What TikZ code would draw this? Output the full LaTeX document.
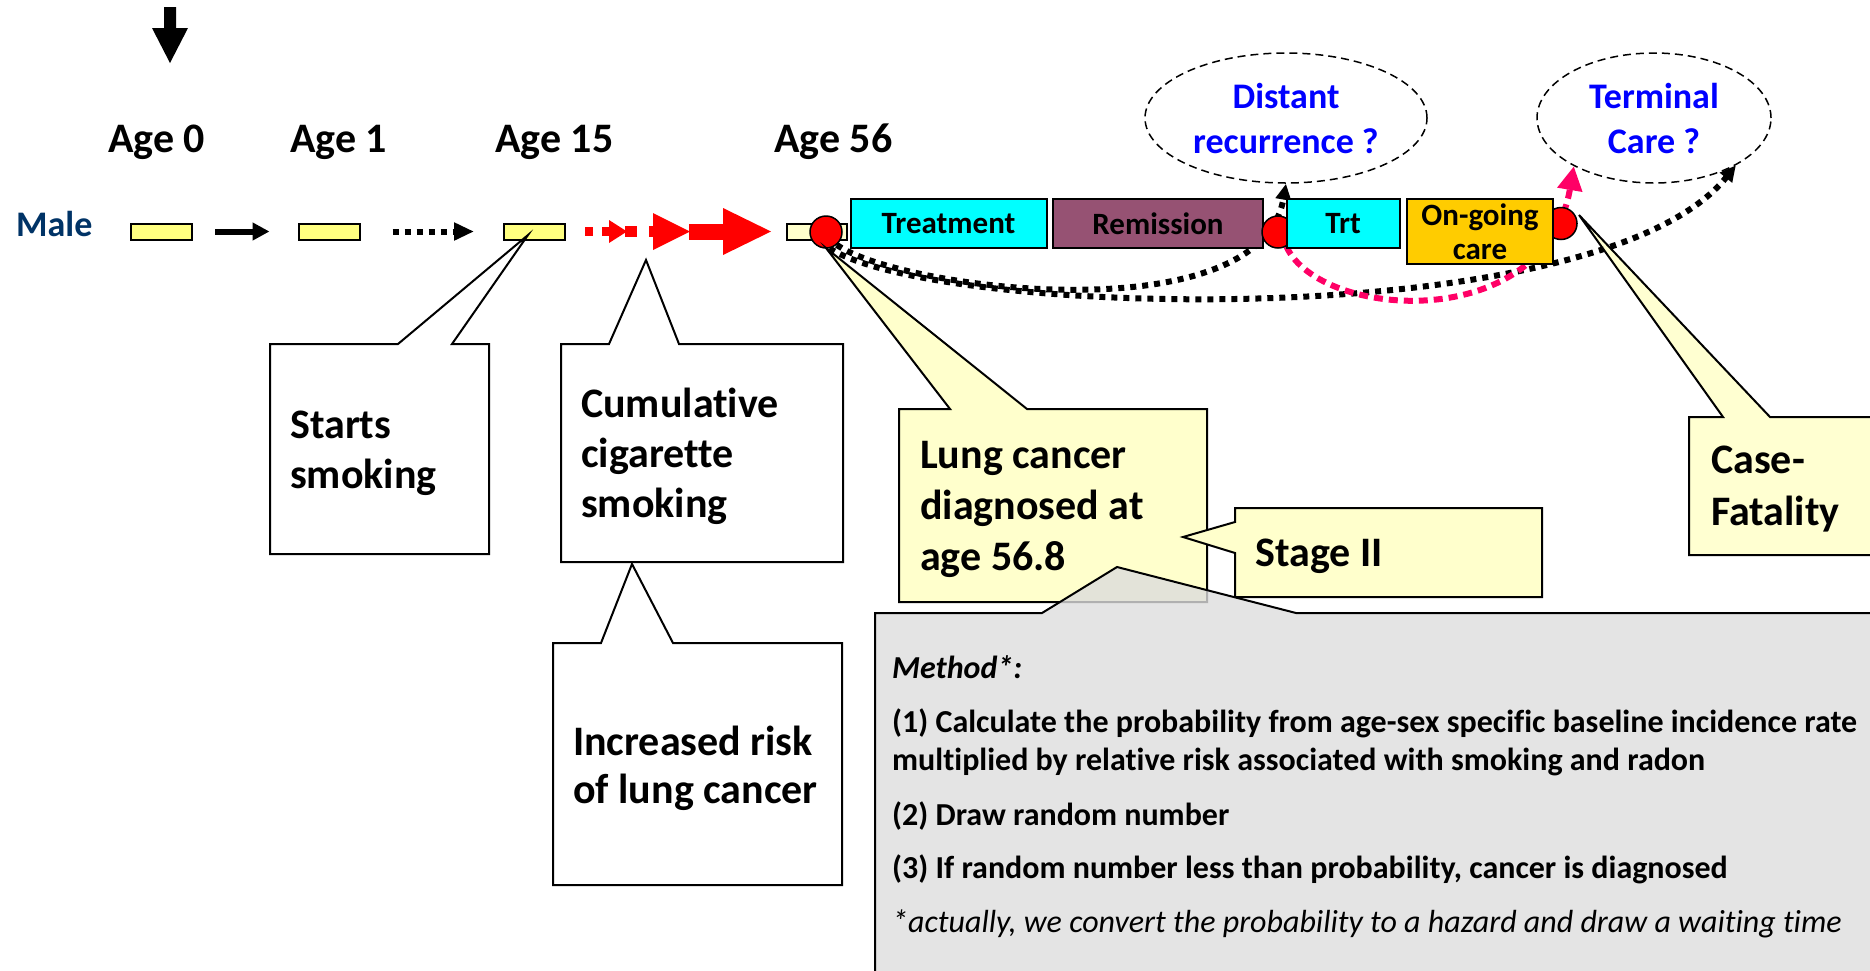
\documentclass[tikz,border=0pt]{standalone}
\usepackage{fontspec}
\setmainfont{Carlito}[Ligatures={NoCommon}]
\usetikzlibrary{arrows.meta,shapes.geometric,backgrounds}
\definecolor{navy}{RGB}{0,51,102}
\definecolor{ylw}{RGB}{255,255,128}
\definecolor{lylw}{RGB}{255,255,204}
\definecolor{remis}{RGB}{150,82,115}
\definecolor{goldc}{RGB}{255,204,0}
\definecolor{pinkc}{RGB}{255,0,102}
\definecolor{grayb}{RGB}{221,221,221}
\definecolor{cyanb}{RGB}{0,255,255}
\newcommand{\lns}[1]{\begin{tabular}[t]{@{}l@{}}#1\end{tabular}}
\begin{document}
\begin{tikzpicture}[x=1pt,y=-1pt,
  every node/.style={inner sep=0pt},
  lbl/.style={font=\fontsize{42}{50}\selectfont\bfseries, anchor=base west},
  tlbox/.style={draw, line width=2pt, minimum width=61pt, minimum height=16pt},
  stg/.style={draw, line width=2pt, font=\fontsize{31}{34}\selectfont\bfseries, align=center},
  redc/.style={circle, draw, line width=1.5pt, fill=red, minimum size=32pt},
  dotk/.style={line width=6pt, dash pattern=on 6pt off 6pt, -{Triangle[length=16pt,width=15pt]}},
  pinkd/.style={draw=pinkc, line width=6pt, dash pattern=on 9pt off 6pt, -{Triangle[length=24pt,width=24pt,fill=pinkc]}},
  ell/.style={ellipse, draw, line width=1.5pt, dash pattern=on 8pt off 5pt, font=\fontsize{36}{45}\selectfont\bfseries, text=blue, align=center},
  callw/.style={draw, line width=2pt, fill=white},
  cally/.style={draw, line width=2pt, fill=lylw},
  mtext/.style={font=\fontsize{32}{38}\selectfont\bfseries, anchor=base west},
  ]
\useasboundingbox (0,0) rectangle (1870,970);
\clip (0,0) rectangle (1870,970);

% top arrow
\fill (164,7) -- (176,7) -- (176,28) -- (188,28) -- (170,63) -- (152,28) -- (164,28) -- cycle;

% age labels
\node[lbl] (age0) at (108,152) {Age 0};
\node[lbl] (age1) at (290,152) {Age 1};
\node[lbl] (age15) at (495,152) {Age 15};
\node[lbl] (age56) at (774,152) {Age 56};
\node[anchor=base west, font=\fontsize{36}{40}\selectfont\bfseries, text=navy] (male) at (16,236) {Male};

% timeline boxes
\node[tlbox, fill=ylw] (b1) at (161.5,231.5) {};
\node[tlbox, fill=ylw] (b2) at (329,231.5) {};
\node[tlbox, fill=ylw] (b3) at (534.5,231.5) {};
\node[tlbox, fill=lylw, minimum width=60pt] (b4) at (817,231.5) {};

\draw[line width=6pt, -{Triangle[length=17pt,width=17pt]}, shorten <=22pt, shorten >=28pt] (b1) -- (b2);
\draw[line width=6pt, dash pattern=on 6pt off 6pt, -{Triangle[length=20pt,width=17pt]}, shorten <=32pt, shorten >=29pt] (b2) -- (b3);

% red accelerating arrow
\fill[red] (585,227) rectangle (593,236);
\fill[red] (602,227) rectangle (609,236);
\fill[red] (609,220) -- (627,231.5) -- (609,243) -- cycle;
\fill[red] (625,226) rectangle (637,237);
\fill[red] (649,226) rectangle (653,237);
\fill[red] (653,213) -- (690,231.5) -- (653,250) -- cycle;
\fill[red] (689,223.5) rectangle (724,239.5);
\fill[red] (723,208) -- (771,231.5) -- (723,255) -- cycle;

\node[redc] (c1) at (826,232) {};

% stage boxes
\node[stg, fill=cyanb, minimum width=196pt, minimum height=49pt] (treat) at (948.5,223.5) {Treatment};
\node[stg, fill=remis, minimum width=210pt, minimum height=49pt] (remis) at (1158,223.5) {Remission};
\node[redc] (c2) at (1278,232) {};
\node[stg, fill=cyanb, minimum width=113pt, minimum height=49pt] (trt) at (1343,223.5) {Trt};
\node[redc] (c3) at (1561,223.5) {};
\node[stg, fill=goldc, minimum width=146pt, minimum height=65pt] (ongo) at (1480,231.5) {On-going\\care};

% ellipses
\node[ell, minimum width=282pt, minimum height=130pt] (dr) at (1286,118) {Distant\\recurrence ?};
\node[ell, minimum width=234pt, minimum height=130pt] (tc) at (1654,118) {Terminal\\Care ?};

% curves behind
\begin{pgfonlayer}{background}
\draw[dotk] (c1.-50) .. controls (900,290) and (1260,335) .. (dr.south);
\draw[dotk] (c1.-78) .. controls (940,318) and (1600,335) .. (tc.-30);
\draw[pinkd] (c2.-60) .. controls (1320,320) and (1545,335) .. (tc.-149);
\end{pgfonlayer}

% callouts
\draw[callw] (270,344) -- (398,344) -- (528,235) -- (452,344) -- (489,344) -- (489,554) -- (270,554) -- cycle;
\node[lbl] (starts) at (290,438) {\lns{Starts\\smoking}};

\draw[callw] (561,344) -- (609,344) -- (646,260) -- (679,344) -- (843,344) -- (843,562) -- (561,562) -- cycle;
\node[lbl] (cumul) at (581,417) {\lns{Cumulative\\cigarette\\smoking}};

\draw[callw] (553,643) -- (601,643) -- (632,564) -- (673,643) -- (842,643) -- (842,885) -- (553,885) -- cycle;
\node[lbl, font=\fontsize{42}{48}\selectfont\bfseries] (incr) at (573,755) {\lns{Increased risk\\of lung cancer}};

\draw[cally] (899,409) -- (950,409) -- (826,248) -- (1027,409) -- (1207,409) -- (1207,602) -- (899,602) -- cycle;
\node[lbl, font=\fontsize{42}{51}\selectfont\bfseries] (lung) at (920,468) {\lns{Lung cancer\\diagnosed at\\age 56.8}};

\draw[cally] (1235,508) -- (1542,508) -- (1542,597) -- (1235,597) -- (1235,553) -- (1183,537) -- (1235,522) -- cycle;
\node[lbl] (stage) at (1255,566) {Stage II};

\draw[cally, fill opacity=0.9] (1689,417) -- (1723,417) -- (1579,215) -- (1770,417) -- (1880,417) -- (1880,555) -- (1689,555) -- cycle;
\node[lbl, font=\fontsize{42}{52}\selectfont\bfseries] (case) at (1711,473) {\lns{Case-\\Fatality}};

% method box
\draw[draw, line width=2pt, fill=grayb, fill opacity=0.8] (875,613) -- (1042,613) -- (1117,567) -- (1296,613) -- (1880,613) -- (1880,980) -- (875,980) -- cycle;
\node[mtext] (m0) at (892,678) {\itshape Method*:};
\node[mtext] (m1) at (892,732) {(1) Calculate the probability from age-sex specific baseline incidence rate};
\node[mtext] (m2) at (892,770) {multiplied by relative risk associated with smoking and radon};
\node[mtext] (m3) at (892,825) {(2) Draw random number};
\node[mtext] (m4) at (892,878) {(3) If random number less than probability, cancer is diagnosed};
\node[mtext, font=\fontsize{32}{38}\selectfont\mdseries\itshape] (m5) at (892,932) {*actually, we convert the probability to a hazard and draw a waiting time};
\end{tikzpicture}
\end{document}
